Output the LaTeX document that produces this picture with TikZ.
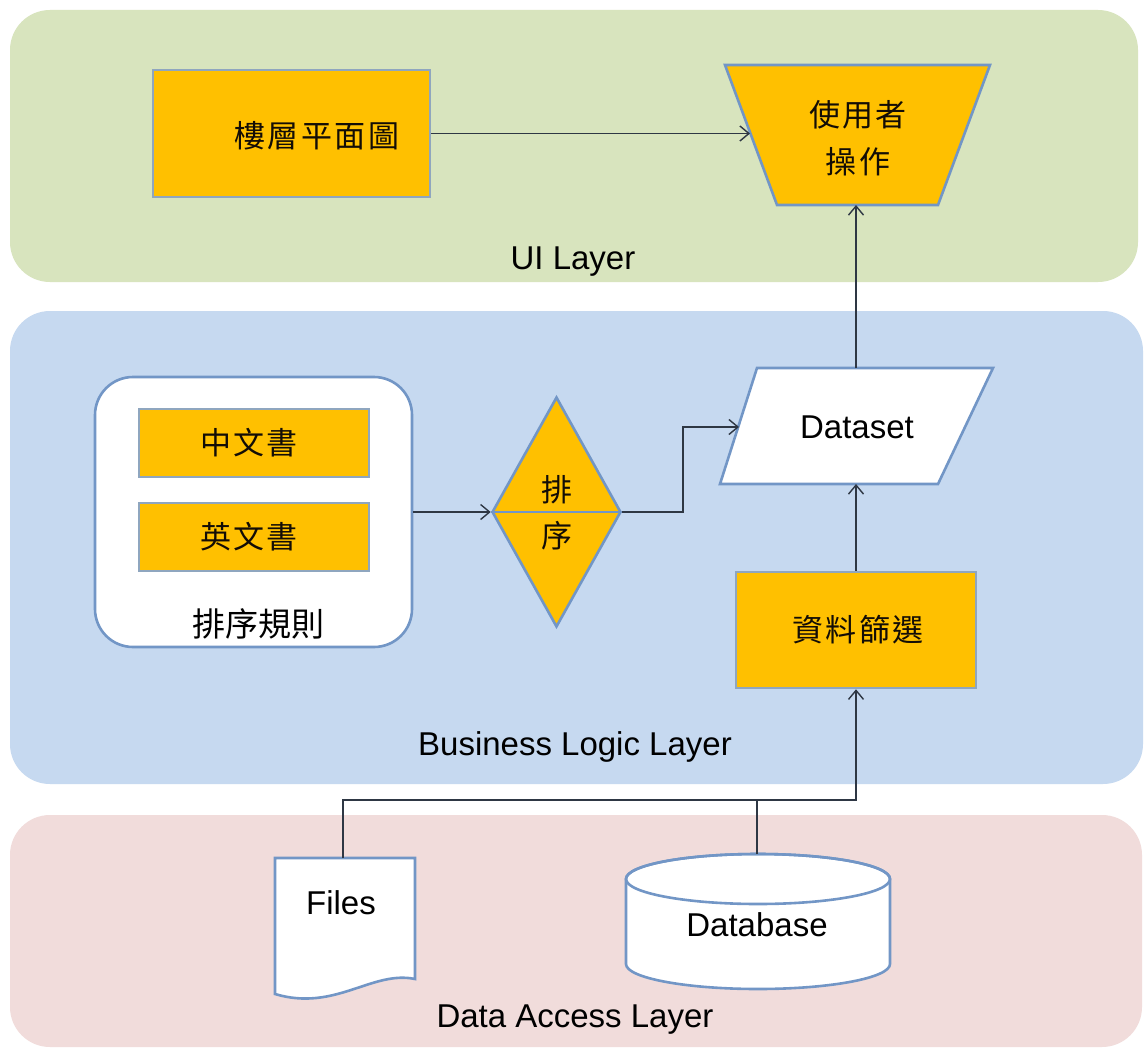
\documentclass[tikz,border=0pt]{standalone}
\usepackage{fontspec}
\setmainfont{Liberation Sans}
\newfontfamily\cjk[LetterSpace=8]{Noto Sans CJK TC}
\newfontfamily\cjkplain{Noto Sans CJK TC}
\usetikzlibrary{arrows.meta,shapes.geometric}

\definecolor{uigreen}{HTML}{D8E4BE}
\definecolor{blblue}{HTML}{C6D9F0}
\definecolor{dapink}{HTML}{F1DCDB}
\definecolor{boxorange}{HTML}{FFC000}
\definecolor{boxedge}{HTML}{8FA6BF}
\definecolor{shapeedge}{HTML}{7296C6}
\definecolor{wire}{HTML}{2E3744}

\tikzset{
  layer/.style={rounded corners=40pt},
  orangebox/.style={draw=boxedge, line width=2.6pt, fill=boxorange, inner sep=0pt},
  whiteshape/.style={draw=shapeedge, line width=2.6pt, fill=white},
  orangeshape/.style={draw=shapeedge, line width=2.6pt, fill=boxorange},
  cjklabel/.style={font=\cjk\fontsize{31}{47}\selectfont, align=center, text=black!90!brown},
  latinlabel/.style={font=\fontsize{33}{38}\selectfont},
  conn/.style={draw=wire, line width=1.4pt},
  arr/.style={conn, -{Straight Barb[length=9pt,width=15pt,line width=1.4pt]}},
}

\begin{document}
\begin{tikzpicture}[x=1pt, y=-1pt]
\useasboundingbox (0,0) rectangle (1146,1049);
\fill[white] (0,0) rectangle (1146,1049);

% layer bands
\fill[uigreen, layer] (10,10) rectangle (1138,282);
\fill[blblue, layer] (10,311) rectangle (1143,784);
\fill[dapink, layer] (10,815) rectangle (1142,1047);

\node[latinlabel] (uilabel) at (573,262) {UI Layer};
\node[latinlabel] (bllabel) at (575,747) {Business Logic Layer};
\node[latinlabel] (dalabel) at (575,1020) {Data Access Layer};

% UI layer
\node[orangebox, minimum width=277pt, minimum height=127pt] (floor) at (291.5,133.5) {};
\node[cjklabel] (floortext) at (317,136) {樓層平面圖};

\coordinate (uiTL) at (725,65);
\coordinate (uiTR) at (990,65);
\coordinate (uiBR) at (938,205);
\coordinate (uiBL) at (777,205);
\path[orangeshape] (uiTL) -- (uiTR) -- (uiBR) -- (uiBL) -- cycle;
\node[cjklabel] (ui) at (858,138) {使用者\\操作};
\coordinate (uiIn) at (750,133.5);
\coordinate (uiBottom) at (856,205);

% business logic layer
\node[whiteshape, rounded corners=38pt, minimum width=317pt, minimum height=270pt] (rules) at (253.5,512) {};
\node[orangebox, minimum width=230pt, minimum height=68pt] (zh) at (254,443) {};
\node[cjklabel] (zhtext) at (249,443) {中文書};
\node[orangebox, minimum width=230pt, minimum height=68pt] (en) at (254,537) {};
\node[cjklabel] (entext) at (249,537) {英文書};
\node[font=\cjkplain\fontsize{33}{38}\selectfont] (rulestext) at (258,624) {排序規則};

\node[diamond, orangeshape, minimum width=129pt, minimum height=230pt, inner sep=0pt] (sort) at (556.5,512) {};
\draw[draw=shapeedge, line width=2.6pt] (sort.west) -- (sort.east);
\node[cjklabel] (sorttop) at (557,490) {排};
\node[cjklabel] (sortbot) at (557,536) {序};

\coordinate (dsTL) at (757,368);
\coordinate (dsTR) at (993,368);
\coordinate (dsBR) at (938,484);
\coordinate (dsBL) at (720,484);
\path[whiteshape] (dsTL) -- (dsTR) -- (dsBR) -- (dsBL) -- cycle;
\node[latinlabel] (ds) at (857,427) {Dataset};
\coordinate (dsIn) at (739,427);
\coordinate (dsTop) at (856,368);
\coordinate (dsBottom) at (856,484);

\node[orangebox, minimum width=240pt, minimum height=116pt] (filter) at (856,630) {};
\node[cjklabel] (filtertext) at (858,630) {資料篩選};

% data access layer
\coordinate (fTL) at (275,858);
\coordinate (fTR) at (415,858);
\path[whiteshape] (fTL) -- (fTR) -- (415,979)
  .. controls (372,970) and (335,1012) .. (275,994) -- cycle;
\node[latinlabel] (files) at (341,903) {Files};
\coordinate (filesTop) at (343,858);

\path[whiteshape] (626,879) -- (626,964)
  arc[start angle=180, end angle=360, x radius=132pt, y radius=25pt]
  -- (890,879)
  arc[start angle=0, end angle=180, x radius=132pt, y radius=25pt] -- cycle;
\draw[draw=shapeedge, line width=2.6pt] (758,879) ellipse[x radius=132pt, y radius=25pt];
\node[latinlabel] (db) at (757,925) {Database};
\coordinate (dbTop) at (757,854);

% connectors
\coordinate (join) at (856,800);
\coordinate (dbJoin) at (757,800);
\coordinate (bend) at (683,512);

\draw[arr] (floor.east) -- (uiIn);
\draw[arr] (dsTop) -- (uiBottom);
\draw[arr] (filter.north) -- (dsBottom);
\draw[arr] (rules.east) -- (sort.west);
\draw[arr] (sort.east) -- (bend) |- (dsIn);
\draw[arr] (filesTop) |- (join) -- (filter.south);
\draw[conn] (dbTop) -- (dbJoin);
\end{tikzpicture}
\end{document}
